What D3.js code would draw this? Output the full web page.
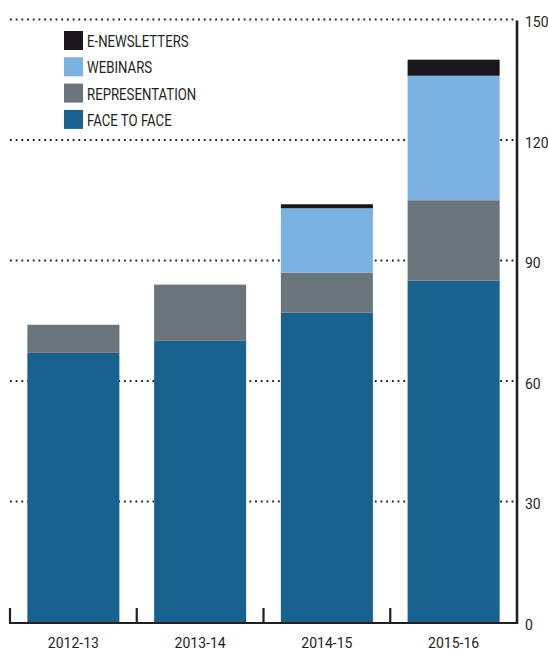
<!DOCTYPE html>
<html>
<head>
<meta charset="utf-8">
<script src="https://cdn.jsdelivr.net/npm/d3@7"></script>
<style>
  html, body { margin: 0; padding: 0; background: #fff; }
  svg { display: block; }
  text { font-family: "Roboto", "Liberation Sans", sans-serif; fill: #231f20; }
</style>
</head>
<body>
<svg id="chart" width="548" height="650"></svg>
<script>
// Activity counts per financial year, stacked bottom to top
const years = ["2012-13", "2013-14", "2014-15", "2015-16"];
const faceToFace     = [67, 70, 77, 85];
const representation = [7, 14, 10, 20];
const webinars       = [0, 0, 16, 31];
const eNewsletters   = [0, 0, 1, 4];

const seriesKeys   = ["faceToFace", "representation", "webinars", "eNewsletters"];
const seriesLabels = ["FACE TO FACE", "REPRESENTATION", "WEBINARS", "E-NEWSLETTERS"];
const seriesColors = ["#17628f", "#69747b", "#7ab3e1", "#19161c"];

const yTicks = [0, 30, 60, 90, 120, 150];

const rows = years.map((yr, i) => ({
  year: yr,
  faceToFace: faceToFace[i],
  representation: representation[i],
  webinars: webinars[i],
  eNewsletters: eNewsletters[i]
}));

const svg = d3.select("#chart");
const plotLeft = 10, plotRight = 517, plotTop = 19.5, plotBottom = 622;

const x = d3.scaleBand().domain(years).range([plotLeft, plotRight]).padding(0);
const barFrac = 0.726;
const y = d3.scaleLinear().domain([0, 150]).range([plotBottom, plotTop]);

// dotted gridlines
svg.append("g")
  .selectAll("line")
  .data(yTicks.filter(d => d > 0))
  .join("line")
  .attr("x1", plotLeft)
  .attr("x2", plotRight - 2)
  .attr("y1", d => y(d))
  .attr("y2", d => y(d))
  .attr("stroke", "#231f20")
  .attr("stroke-width", 1.8)
  .attr("stroke-dasharray", "1.8,3.9");

// stacked bars
const stacked = d3.stack().keys(seriesKeys)(rows);
const bw = x.bandwidth() * barFrac;
svg.append("g")
  .selectAll("g")
  .data(stacked)
  .join("g")
  .attr("fill", (d, i) => seriesColors[i])
  .selectAll("rect")
  .data(d => d)
  .join("rect")
  .attr("x", d => x(d.data.year) + (x.bandwidth() - bw) / 2)
  .attr("width", bw)
  .attr("y", d => y(d[1]))
  .attr("height", d => y(d[0]) - y(d[1]));

// bottom axis: baseline with ticks at band boundaries
const bottomAxis = svg.append("g");
bottomAxis.append("line")
  .attr("x1", plotLeft - 1).attr("x2", plotRight + 1)
  .attr("y1", plotBottom + 1).attr("y2", plotBottom + 1)
  .attr("stroke", "#231f20").attr("stroke-width", 2.2);
bottomAxis.selectAll("line.tick")
  .data(years)
  .join("line")
  .attr("class", "tick")
  .attr("x1", d => x(d)).attr("x2", d => x(d))
  .attr("y1", plotBottom + 2).attr("y2", plotBottom - 14)
  .attr("stroke", "#231f20").attr("stroke-width", 2.2);
bottomAxis.selectAll("text")
  .data(years)
  .join("text")
  .attr("x", d => x(d) + x.bandwidth() / 2)
  .attr("y", 648)
  .attr("text-anchor", "middle")
  .attr("font-size", 14)
  .text(d => d);

// right value axis
const yAxis = svg.append("g")
  .attr("transform", `translate(${plotRight},0)`)
  .call(d3.axisRight(y).tickValues(yTicks).tickSize(0).tickPadding(8));
yAxis.select(".domain").remove();
yAxis.append("line")
  .attr("x1", 0).attr("x2", 0)
  .attr("y1", plotTop + 1).attr("y2", plotBottom + 2)
  .attr("stroke", "#231f20").attr("stroke-width", 2.6);
yAxis.selectAll(".tick text")
  .attr("font-size", 14)
  .attr("font-family", null)
  .attr("fill", "#231f20")
  .attr("dy", "0.5em");

// legend, top to bottom, set in a narrowed face
const legendOrder = [3, 2, 1, 0];
const legend = svg.append("g").attr("transform", "translate(64,31)");
const item = legend.selectAll("g")
  .data(legendOrder)
  .join("g")
  .attr("transform", (d, i) => `translate(0,${i * 26.3})`);
item.append("rect")
  .attr("width", 19).attr("height", 19)
  .attr("fill", d => seriesColors[d]);
item.append("text")
  .attr("transform", "translate(23,16) scale(0.8,1)")
  .attr("font-size", 16.5)
  .text(d => seriesLabels[d]);
</script>
</body>
</html>
